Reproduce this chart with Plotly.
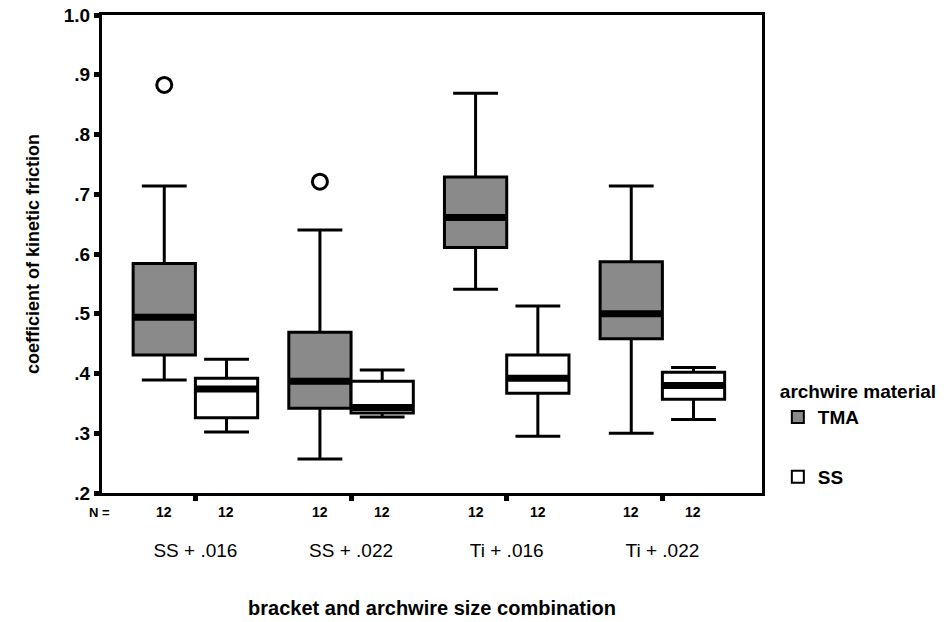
import plotly.graph_objects as go

categories = ["SS + .016", "SS + .022", "Ti + .016", "Ti + .022"]
y_ticks = [0.2, 0.3, 0.4, 0.5, 0.6, 0.7, 0.8, 0.9, 1.0]
y_ticktext = [".2", ".3", ".4", ".5", ".6", ".7", ".8", ".9", "1.0"]

# TMA archwire (precomputed box statistics)
tma_lower = [0.389, 0.257, 0.541, 0.300]
tma_q1 = [0.431, 0.342, 0.611, 0.458]
tma_median = [0.494, 0.387, 0.661, 0.500]
tma_q3 = [0.584, 0.469, 0.729, 0.587]
tma_upper = [0.714, 0.640, 0.869, 0.714]
tma_outliers = [[0.883], [0.721], [], []]

# SS archwire
ss_lower = [0.302, 0.327, 0.295, 0.323]
ss_q1 = [0.326, 0.334, 0.367, 0.357]
ss_median = [0.374, 0.343, 0.392, 0.380]
ss_q3 = [0.392, 0.387, 0.431, 0.402]
ss_upper = [0.424, 0.406, 0.513, 0.410]
ss_outliers = None  # no outliers in the SS group

n_tma = [12, 12, 12, 12]
n_ss = [12, 12, 12, 12]

FONT = "Liberation Sans, Arial, sans-serif"
BLACK = "#000000"

fig = go.Figure()

def add_group(name, lower, q1, med, q3, upper, pts, fill, grp):
    kw = {}
    if pts is not None:
        kw["y"] = pts
    fig.add_trace(go.Box(
        name=name, x=categories,
        q1=q1, median=med, q3=q3, lowerfence=lower, upperfence=upper,
        boxpoints="outliers", fillcolor=fill,
        line=dict(color=BLACK, width=3), whiskerwidth=0.72,
        marker=dict(symbol="circle-open", size=15, color=BLACK,
                    line=dict(width=3, color=BLACK)),
        offsetgroup=grp, alignmentgroup="all", legendgroup=grp,
        showlegend=True, hoverinfo="skip", **kw
    ))
    # thick median bar drawn as a degenerate box in the same slot
    fig.add_trace(go.Box(
        name=name + " median", x=categories,
        q1=med, median=med, q3=med, lowerfence=med, upperfence=med,
        boxpoints=False, fillcolor=fill, whiskerwidth=0,
        line=dict(color=BLACK, width=7),
        offsetgroup=grp, alignmentgroup="all", legendgroup=grp,
        showlegend=False, hoverinfo="skip",
    ))

add_group("TMA", tma_lower, tma_q1, tma_median, tma_q3, tma_upper, tma_outliers, "#8a8a8a", "TMA")
add_group("SS", ss_lower, ss_q1, ss_median, ss_q3, ss_upper, ss_outliers, "#ffffff", "SS")

annotations = []
for cat, nt, ns in zip(categories, n_tma, n_ss):
    for n, shift in ((nt, -31), (ns, 31)):
        annotations.append(dict(
            x=cat, xref="x", y=0, yref="paper", yanchor="middle",
            yshift=-19, xshift=shift,
            text=str(n), showarrow=False,
            font=dict(family=FONT, size=14, color=BLACK, weight="bold"),
        ))
annotations.append(dict(
    x=0, xref="paper", y=0, yref="paper", yanchor="middle", yshift=-19,
    xshift=-15, text="N =", showarrow=False, xanchor="left",
    font=dict(family=FONT, size=13, color=BLACK, weight="bold"),
))

fig.update_layout(
    width=952, height=622,
    margin=dict(l=102, r=190, t=15, b=129, autoexpand=False),
    paper_bgcolor="white", plot_bgcolor="white",
    boxmode="group", boxgap=0.2, boxgroupgap=0,
    font=dict(family=FONT, color=BLACK),
    showlegend=True,
    legend=dict(
        x=1.024, xanchor="left", y=0.25, yanchor="top",
        title=dict(text="archwire material",
                   font=dict(size=19, family=FONT, weight="bold")),
        font=dict(size=19, family=FONT, weight="bold"),
        tracegroupgap=32, itemsizing="constant",
        bgcolor="rgba(0,0,0,0)",
    ),
    annotations=annotations,
    xaxis=dict(
        type="category", categoryorder="array", categoryarray=categories,
        range=[-0.6, 3.64],
        showline=True, linecolor=BLACK, linewidth=3, mirror=True,
        ticks="outside", ticklen=5, tickwidth=5, tickcolor=BLACK,
        ticklabelstandoff=33,
        tickfont=dict(size=19, family=FONT),
        showgrid=False, zeroline=False,
        title=dict(text="bracket and archwire size combination",
                   font=dict(size=20, family=FONT, weight="bold"), standoff=42),
    ),
    yaxis=dict(
        range=[0.2, 1.0], tickvals=y_ticks, ticktext=y_ticktext,
        showline=True, linecolor=BLACK, linewidth=3, mirror=True,
        ticks="outside", ticklen=5, tickwidth=5, tickcolor=BLACK,
        tickfont=dict(size=19, family=FONT, weight="bold"),
        showgrid=False, zeroline=False,
        title=dict(text="coefficient of kinetic friction",
                   font=dict(size=18, family=FONT, weight="bold"), standoff=20),
    ),
)

fig.write_html("out.html")
